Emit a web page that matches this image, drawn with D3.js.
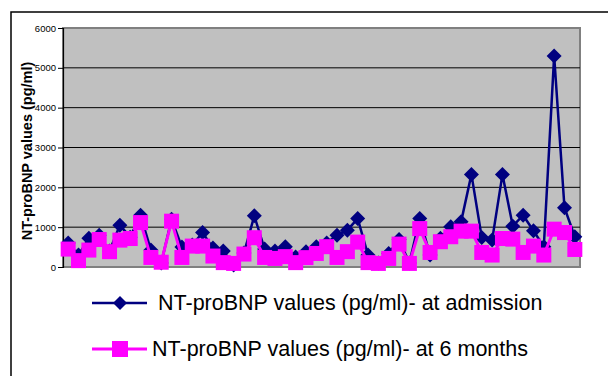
<!DOCTYPE html>
<html>
<head>
<meta charset="utf-8">
<script src="https://cdn.jsdelivr.net/npm/d3@7"></script>
<style>
  body { margin: 0; background: #fff; }
  svg { display: block; }
</style>
</head>
<body>
<div id="chart"></div>
<script>
// values (pg/ml), one per patient
const admission = [600, 300, 720, 800, 400, 1050, 750, 1300, 425, 100,
  1200, 500, 550, 865, 475, 400, 50, 350, 1285, 450,
  400, 510, 250, 385, 510, 600, 800, 925, 1215, 300,
  100, 340, 690, 100, 1215, 300, 720, 1010, 1135, 2325,
  740, 675, 2325, 1025, 1300, 910, 510, 5300, 1490, 760];
const sixMonths = [450, 160, 425, 690, 385, 675, 715, 1115, 240, 120,
  1150, 240, 525, 525, 275, 110, 90, 325, 735, 240,
  215, 260, 110, 235, 340, 510, 240, 385, 625, 110,
  90, 215, 575, 90, 965, 365, 635, 760, 900, 900,
  365, 300, 715, 700, 365, 525, 300, 950, 865, 440];
const yTicks = [0, 1000, 2000, 3000, 4000, 5000, 6000];
const seriesNames = ["NT-proBNP values (pg/ml)- at admission", "NT-proBNP values (pg/ml)- at 6 months"];
const yTitle = "NT-proBNP values (pg/ml)";

const width = 608, height = 376;
const font = "'Liberation Sans', Arial, sans-serif";
const plot = { left: 63, right: 580, top: 28, bottom: 267 };

const svg = d3.select("#chart").append("svg")
  .attr("width", width)
  .attr("height", height)
  .style("font-family", font);

// outer frame (only top and left edges show)
svg.append("path")
  .attr("d", `M11,${height} L11,12 L${width},12`)
  .attr("fill", "none")
  .attr("stroke", "#000")
  .attr("stroke-width", 1.5);

const x = d3.scaleBand()
  .domain(d3.range(admission.length))
  .range([plot.left, plot.right]);
const cx = i => x(i) + x.bandwidth() / 2;

const y = d3.scaleLinear()
  .domain([0, 6000])
  .range([plot.bottom, plot.top]);

// plot area
svg.append("rect")
  .attr("x", plot.left)
  .attr("y", plot.top)
  .attr("width", plot.right - plot.left)
  .attr("height", plot.bottom - plot.top)
  .attr("fill", "#c0c0c0")
  .attr("stroke", "#808080")
  .attr("stroke-width", 2);

// gridlines
svg.append("g")
  .selectAll("line")
  .data(yTicks.filter(t => t > 0 && t < 6000))
  .join("line")
    .attr("x1", plot.left)
    .attr("x2", plot.right)
    .attr("y1", d => y(d))
    .attr("y2", d => y(d))
    .attr("stroke", "#000")
    .attr("stroke-width", 1);

// y axis
const yAxis = svg.append("g")
  .attr("transform", `translate(${plot.left},0)`)
  .call(d3.axisLeft(y).tickValues(yTicks).tickSize(5).tickPadding(2).tickFormat(d3.format("d")));
yAxis.select(".domain").attr("stroke", "#000").attr("stroke-width", 1.2);
yAxis.selectAll(".tick line").attr("stroke", "#000");
yAxis.selectAll(".tick text")
  .attr("fill", "#000")
  .style("font-family", font)
  .style("font-size", "9.5px");

svg.append("text")
  .attr("transform", "translate(32,151) rotate(-90)")
  .attr("text-anchor", "middle")
  .style("font-size", "14.5px")
  .style("font-weight", "700")
  .attr("fill", "#000")
  .text(yTitle);

const diamond = s => `M0,${-s} L${s},0 L0,${s} L${-s},0 Z`;

const line = d3.line()
  .x((d, i) => cx(i))
  .y(d => y(d));

// admission series
svg.append("path")
  .datum(admission)
  .attr("d", line)
  .attr("fill", "none")
  .attr("stroke", "#000080")
  .attr("stroke-width", 2.5);

svg.append("g")
  .selectAll("path")
  .data(admission)
  .join("path")
    .attr("transform", (d, i) => `translate(${cx(i)},${y(d)})`)
    .attr("d", diamond(7.5))
    .attr("fill", "#000080");

// 6 months series
svg.append("path")
  .datum(sixMonths)
  .attr("d", line)
  .attr("fill", "none")
  .attr("stroke", "#ff00ff")
  .attr("stroke-width", 3);

svg.append("g")
  .selectAll("rect")
  .data(sixMonths)
  .join("rect")
    .attr("x", (d, i) => cx(i) - 7.5)
    .attr("y", d => y(d) - 7.5)
    .attr("width", 15)
    .attr("height", 15)
    .attr("fill", "#ff00ff");

// legend
const legend = svg.append("g");
const legendRows = [
  { name: seriesNames[0], color: "#000080", y: 303, textX: 158, shape: "diamond" },
  { name: seriesNames[1], color: "#ff00ff", y: 349, textX: 152, shape: "square" }
];

legendRows.forEach(r => {
  legend.append("line")
    .attr("x1", 92).attr("x2", 147)
    .attr("y1", r.y).attr("y2", r.y)
    .attr("stroke", r.color)
    .attr("stroke-width", r.shape === "diamond" ? 2.5 : 3);
  if (r.shape === "diamond") {
    legend.append("path")
      .attr("transform", `translate(120,${r.y})`)
      .attr("d", diamond(7))
      .attr("fill", r.color);
  } else {
    legend.append("rect")
      .attr("x", 112).attr("y", r.y - 8)
      .attr("width", 16).attr("height", 16)
      .attr("fill", r.color);
  }
  legend.append("text")
    .attr("x", r.textX)
    .attr("y", r.y + 7)
    .style("font-size", "21.5px")
    .attr("fill", "#000")
    .text(r.name);
});
</script>
</body>
</html>
